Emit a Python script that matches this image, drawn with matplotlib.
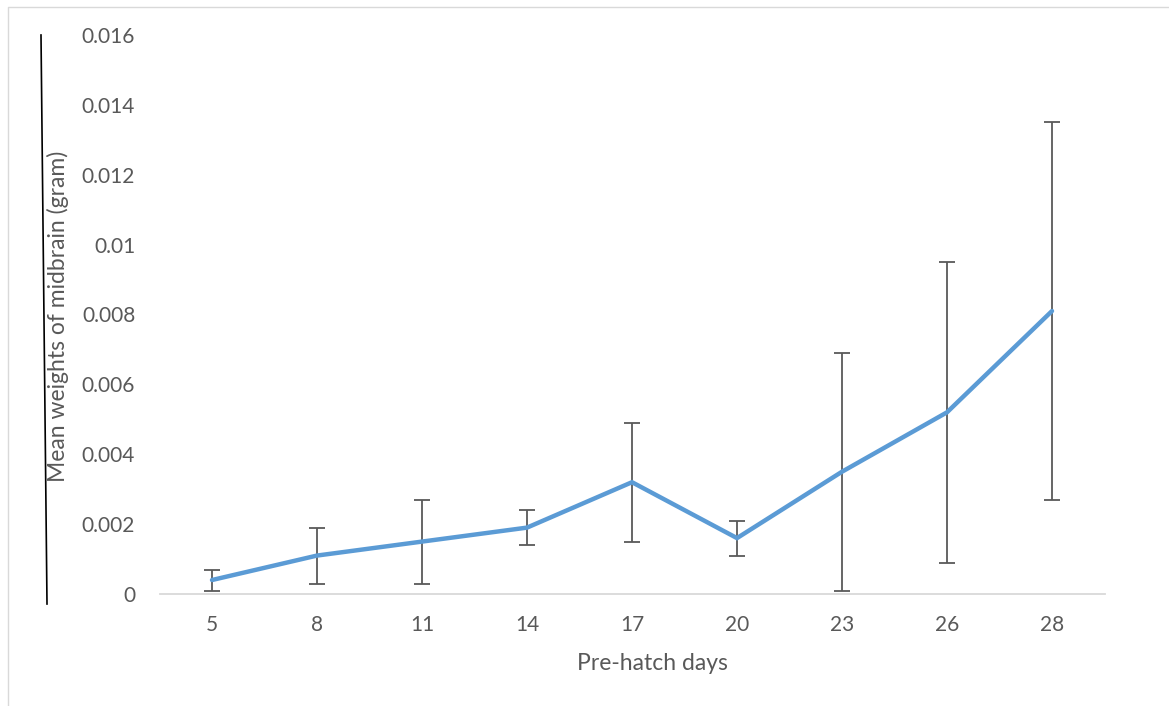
import matplotlib.pyplot as plt
from matplotlib.lines import Line2D

days = ["5", "8", "11", "14", "17", "20", "23", "26", "28"]
mean_weight = [0.0004, 0.0011, 0.0015, 0.0019, 0.0032, 0.0016, 0.0035, 0.0052, 0.0081]
err = [0.0003, 0.0008, 0.0012, 0.0005, 0.0017, 0.0005, 0.0034, 0.0043, 0.0054]

yticks = [0, 0.002, 0.004, 0.006, 0.008, 0.01, 0.012, 0.014, 0.016]
ytick_labels = ["0", "0.002", "0.004", "0.006", "0.008", "0.01", "0.012", "0.014", "0.016"]

plt.rcParams["font.family"] = ["Lato", "DejaVu Sans"]
W, H = 1169, 706
fig = plt.figure(figsize=(W / 100, H / 100), dpi=100)
ax = fig.add_axes([159.5 / W, 1 - 594 / H, 945 / W, 559 / H])

x = list(range(len(days)))
ax.errorbar(x, mean_weight, yerr=err, fmt="none", ecolor="#595959",
            elinewidth=1.3, capsize=6, capthick=1.3, zorder=2)
ax.plot(x, mean_weight, color="#5B9BD5", lw=3.2, solid_capstyle="round",
        solid_joinstyle="miter", zorder=3)

ax.set_xlim(-0.5, len(days) - 0.5)
ax.set_ylim(0, 0.016)
ax.set_xticks(x, days)
ax.set_yticks(yticks, ytick_labels)
ax.tick_params(length=0, colors="#595959", labelsize=15)
ax.tick_params(axis="y", pad=17.5)
ax.tick_params(axis="x", pad=15)
for s in ["top", "right", "left"]:
    ax.spines[s].set_visible(False)
ax.spines["bottom"].set_color("#D9D9D9")
ax.spines["bottom"].set_linewidth(1.3)

fig.text(652 / W, 1 - 663 / H, "Pre-hatch days", ha="center", va="center",
         fontsize=16.5, color="#595959")
fig.text(58 / W, 1 - 316 / H, "Mean weights of midbrain (gram)", ha="center",
         va="center", rotation=90, fontsize=16.5, color="#595959")

# stray drawn line and chart border
fig.add_artist(Line2D([41 / W, 47 / W], [1 - 35 / H, 1 - 604 / H], color="black", lw=1.2))
fig.add_artist(Line2D([7.5 / W, 7.5 / W, 1], [0, 1 - 7 / H, 1 - 7 / H], color="#D9D9D9", lw=1))

fig.savefig("out.png", dpi=100)
